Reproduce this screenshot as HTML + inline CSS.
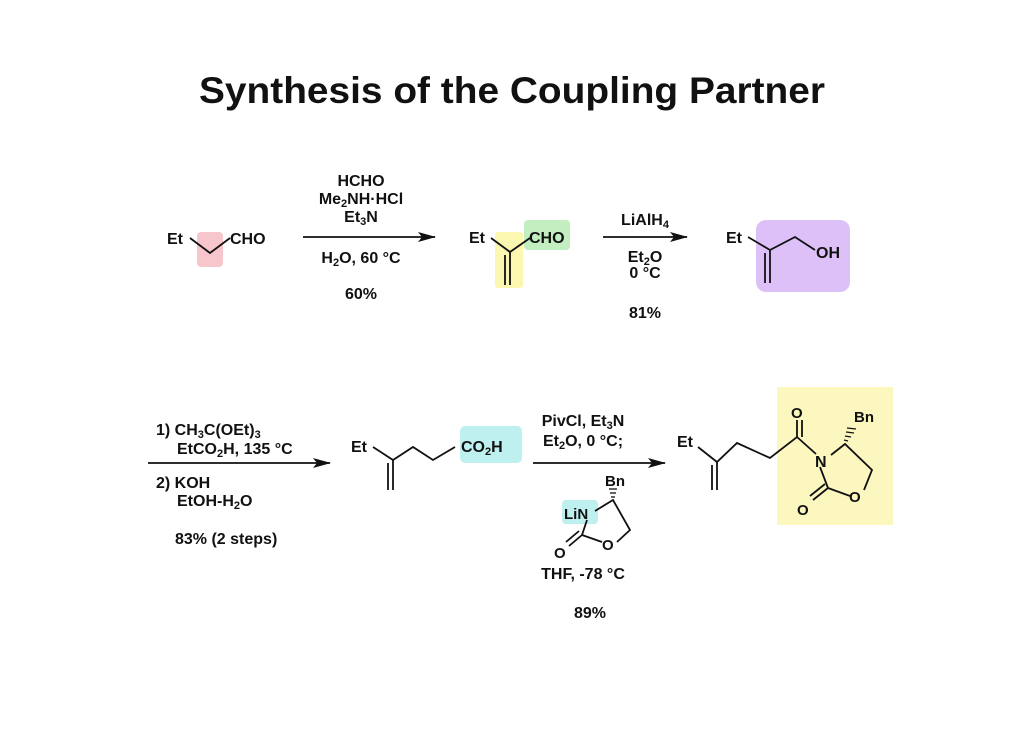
<!DOCTYPE html>
<html><head><meta charset="utf-8"><style>
html,body{margin:0;padding:0;background:#fff}
svg text{font-family:"Liberation Sans",Arial,sans-serif;font-weight:bold;fill:#111}
</style></head><body>
<svg width="1024" height="724" viewBox="0 0 1024 724" xmlns="http://www.w3.org/2000/svg">
<defs><marker id="ah" markerWidth="18" markerHeight="10" refX="17" refY="5" orient="auto" markerUnits="userSpaceOnUse"><path d="M0,0 L18,5 L0,10 L4,5 Z" fill="#111"/></marker></defs>
<text x="512" y="103" font-size="37" text-anchor="middle" textLength="626" lengthAdjust="spacingAndGlyphs">Synthesis of the Coupling Partner</text>

<rect x="197" y="232" width="26" height="35" rx="4" fill="#f7c6cc"/>
<rect x="495" y="232" width="28" height="56" rx="3" fill="#fbf6b0"/>
<rect x="524" y="220" width="46" height="30" rx="4" fill="#c3eec0"/>
<rect x="756" y="220" width="94" height="72" rx="10" fill="#dcc0f7"/>
<rect x="460" y="426" width="62" height="37" rx="5" fill="#bff0f0"/>
<rect x="562" y="500" width="36" height="24" rx="4" fill="#bff0f0"/>
<rect x="777" y="387" width="116" height="138" fill="#fbf7bf"/>

<g stroke="#111" stroke-width="1.8" fill="none">
<polyline points="190,238 210,253 230,238"/>
<line x1="303" y1="237" x2="435" y2="237" marker-end="url(#ah)"/>
<polyline points="491,238 510,252 530,238"/>
<line x1="510" y1="252" x2="510" y2="285"/><line x1="505" y1="255" x2="505" y2="285"/>
<line x1="603" y1="237" x2="687" y2="237" marker-end="url(#ah)"/>
<polyline points="748,237 770,250 795,237 815,250"/>
<line x1="770" y1="250" x2="770" y2="283"/><line x1="765" y1="253" x2="765" y2="283"/>
<line x1="148" y1="463" x2="330" y2="463" marker-end="url(#ah)"/>
<polyline points="373,447 393,460 413,447 433,460 455,447"/>
<line x1="393" y1="460" x2="393" y2="490"/><line x1="388" y1="463" x2="388" y2="490"/>
<line x1="533" y1="463" x2="665" y2="463" marker-end="url(#ah)"/>
<polyline points="595,511 613,500 630,530 617,542"/>
<line x1="587" y1="520" x2="582" y2="535"/>
<line x1="582" y1="535" x2="602" y2="542"/>
<line x1="582" y1="535" x2="569" y2="546"/><line x1="579" y1="531" x2="566" y2="542"/>
<polyline points="698,447 717,462 737,443 770,458 797,437 816,454"/>
<line x1="717" y1="462" x2="717" y2="490"/><line x1="712" y1="465" x2="712" y2="490"/>
<line x1="797" y1="437" x2="797" y2="420"/><line x1="802" y1="437" x2="802" y2="420"/>
<polyline points="831,455 845,444 872,470 864,490"/>
<line x1="820" y1="467" x2="828" y2="488"/>
<line x1="828" y1="488" x2="850" y2="496"/>
<line x1="828" y1="488" x2="813" y2="500"/><line x1="825" y1="484" x2="810" y2="496"/>
</g>
<g stroke="#111" stroke-width="1.3">
<line x1="611" y1="497" x2="615" y2="497"/><line x1="610" y1="493" x2="616" y2="493"/><line x1="609" y1="489" x2="617" y2="489"/>
<line x1="844" y1="440" x2="848" y2="441"/><line x1="845" y1="436" x2="851" y2="437"/><line x1="846" y1="432" x2="854" y2="433"/><line x1="847" y1="428" x2="856" y2="429"/>
</g>

<g font-size="16">
<text x="167" y="244">Et</text><text x="230" y="244">CHO</text>
<text x="361" y="186" text-anchor="middle">HCHO</text>
<text x="361" y="204" text-anchor="middle">Me<tspan font-size="11" dy="3">2</tspan><tspan dy="-3">NH·HCl</tspan></text>
<text x="361" y="222" text-anchor="middle">Et<tspan font-size="11" dy="3">3</tspan><tspan dy="-3">N</tspan></text>
<text x="361" y="263" text-anchor="middle">H<tspan font-size="11" dy="3">2</tspan><tspan dy="-3">O, 60 °C</tspan></text>
<text x="361" y="299" text-anchor="middle">60%</text>
<text x="469" y="243">Et</text><text x="529" y="243">CHO</text>
<text x="645" y="225" text-anchor="middle">LiAlH<tspan font-size="11" dy="3">4</tspan></text>
<text x="645" y="262" text-anchor="middle">Et<tspan font-size="11" dy="3">2</tspan><tspan dy="-3">O</tspan></text>
<text x="645" y="278" text-anchor="middle">0 °C</text>
<text x="645" y="318" text-anchor="middle">81%</text>
<text x="726" y="243">Et</text><text x="816" y="258">OH</text>

<text x="156" y="435">1) CH<tspan font-size="11" dy="3">3</tspan><tspan dy="-3">C(OEt)</tspan><tspan font-size="11" dy="3">3</tspan></text>
<text x="177" y="454">EtCO<tspan font-size="11" dy="3">2</tspan><tspan dy="-3">H, 135 °C</tspan></text>
<text x="156" y="488">2) KOH</text>
<text x="177" y="506">EtOH-H<tspan font-size="11" dy="3">2</tspan><tspan dy="-3">O</tspan></text>
<text x="175" y="544">83% (2 steps)</text>
<text x="351" y="452">Et</text>
<text x="461" y="452">CO<tspan font-size="11" dy="3">2</tspan><tspan dy="-3">H</tspan></text>
<text x="583" y="426" text-anchor="middle">PivCl, Et<tspan font-size="11" dy="3">3</tspan><tspan dy="-3">N</tspan></text>
<text x="583" y="446" text-anchor="middle">Et<tspan font-size="11" dy="3">2</tspan><tspan dy="-3">O, 0 °C;</tspan></text>
<text x="605" y="486" font-size="15">Bn</text>
<text x="564" y="519" font-size="15">LiN</text>
<text x="602" y="550" font-size="15">O</text>
<text x="554" y="558" font-size="15">O</text>
<text x="583" y="579" text-anchor="middle">THF, -78 °C</text>
<text x="590" y="618" text-anchor="middle">89%</text>
<text x="677" y="447">Et</text>
<text x="791" y="418" font-size="15">O</text>
<text x="815" y="467" font-size="16">N</text>
<text x="854" y="422" font-size="15">Bn</text>
<text x="849" y="502" font-size="15">O</text>
<text x="797" y="515" font-size="15">O</text>
</g>
</svg>
</body></html>
